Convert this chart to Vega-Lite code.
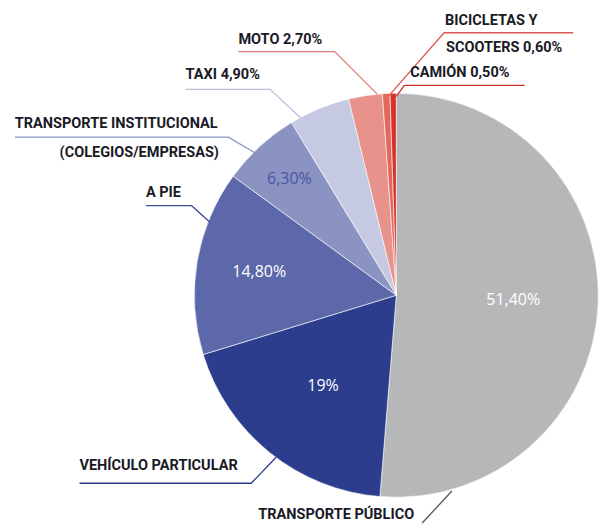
{
  "$schema": "https://vega.github.io/schema/vega-lite/v6.json",
  "width": 599,
  "height": 526,
  "autosize": {"type": "fit", "contains": "padding"},
  "padding": 0,
  "background": "#ffffff",
  "config": {"view": {"stroke": null}},
  "datasets": {
    "modos": [
      {"modo": "Transporte público", "valor": 51.4, "orden": 1, "etiqueta": "51,40%"},
      {"modo": "Vehículo particular", "valor": 19, "orden": 2, "etiqueta": "19%"},
      {"modo": "A pie", "valor": 14.8, "orden": 3, "etiqueta": "14,80%"},
      {"modo": "Transporte institucional", "valor": 6.3, "orden": 4, "etiqueta": "6,30%"},
      {"modo": "Taxi", "valor": 4.9, "orden": 5, "etiqueta": ""},
      {"modo": "Moto", "valor": 2.7, "orden": 6, "etiqueta": ""},
      {"modo": "Bicicletas y scooters", "valor": 0.6, "orden": 7, "etiqueta": ""},
      {"modo": "Camión", "valor": 0.5, "orden": 8, "etiqueta": ""}
    ],
    "lineas": [
      {"linea": "Bicicletas", "p": 1, "x": 88.1, "y": 130.7},
      {"linea": "Bicicletas", "p": 2, "x": 23.8, "y": 130.7},
      {"linea": "Bicicletas", "p": 3, "x": -4.0, "y": 99.0},
      {"linea": "Camión", "p": 1, "x": 63.9, "y": 104.5},
      {"linea": "Camión", "p": 2, "x": 4.0, "y": 104.5},
      {"linea": "Camión", "p": 3, "x": 0.0, "y": 99.0},
      {"linea": "Moto", "p": 1, "x": -78.7, "y": 121.3},
      {"linea": "Moto", "p": 2, "x": -30.7, "y": 121.3},
      {"linea": "Moto", "p": 3, "x": -9.4, "y": 100.0},
      {"linea": "Taxi", "p": 1, "x": -105.0, "y": 102.5},
      {"linea": "Taxi", "p": 2, "x": -62.9, "y": 102.5},
      {"linea": "Taxi", "p": 3, "x": -47.5, "y": 88.1},
      {"linea": "Institucional", "p": 1, "x": -190.1, "y": 78.7},
      {"linea": "Institucional", "p": 2, "x": -83.7, "y": 78.7},
      {"linea": "Institucional", "p": 3, "x": -70.3, "y": 70.8},
      {"linea": "A pie", "p": 1, "x": -124.8, "y": 44.6},
      {"linea": "A pie", "p": 2, "x": -102.0, "y": 44.6},
      {"linea": "A pie", "p": 3, "x": -92.6, "y": 36.1},
      {"linea": "Vehículo", "p": 1, "x": -157.9, "y": -93.6},
      {"linea": "Vehículo", "p": 2, "x": -72.3, "y": -93.6},
      {"linea": "Vehículo", "p": 3, "x": -59.9, "y": -80.7},
      {"linea": "Público", "p": 1, "x": 12.9, "y": -113.4},
      {"linea": "Público", "p": 2, "x": 27.7, "y": -97.5}
    ],
    "rotulos": [
      {"texto": "BICICLETAS Y", "x": 24.3, "y": 136.6},
      {"texto": "SCOOTERS 0,60%", "x": 24.8, "y": 123.3},
      {"texto": "CAMIÓN 0,50%", "x": 6.9, "y": 110.9},
      {"texto": "MOTO 2,70%", "x": -78.7, "y": 127.2},
      {"texto": "TAXI 4,90%", "x": -105.0, "y": 109.9},
      {"texto": "TRANSPORTE INSTITUCIONAL", "x": -190.1, "y": 85.1},
      {"texto": "(COLEGIOS/EMPRESAS)", "x": -167.8, "y": 70.8},
      {"texto": "A PIE", "x": -124.8, "y": 51.0},
      {"texto": "VEHÍCULO PARTICULAR", "x": -157.9, "y": -85.1},
      {"texto": "TRANSPORTE PÚBLICO", "x": -68.8, "y": -109.4}
    ]
  },
  "layer": [
    {
      "data": {"name": "modos"},
      "mark": {"type": "arc", "outerRadius": 202, "stroke": "#ffffff", "strokeWidth": 0.6},
      "encoding": {
        "x": {"datum": 0, "type": "quantitative", "scale": {"domain": [-197.5, 99], "nice": false, "zero": false}, "axis": null},
        "y": {"datum": 0, "type": "quantitative", "scale": {"domain": [-113.4, 147], "nice": false, "zero": false}, "axis": null},
        "theta": {"field": "valor", "type": "quantitative", "stack": true},
        "order": {"field": "orden", "type": "quantitative"},
        "color": {
          "field": "modo", "type": "nominal", "legend": null,
          "scale": {
            "domain": ["Transporte público", "Vehículo particular", "A pie", "Transporte institucional", "Taxi", "Moto", "Bicicletas y scooters", "Camión"],
            "range": ["#b6b7b9", "#2b3d8c", "#5c68a9", "#8b93c3", "#c5c9e1", "#e8928c", "#e2685e", "#d6342a"]
          }
        }
      }
    },
    {
      "data": {"name": "modos"},
      "mark": {"type": "text", "radius": 117, "font": "Open Sans", "fontSize": 16, "color": "#ffffff"},
      "encoding": {
        "x": {"datum": 0, "type": "quantitative"},
        "y": {"datum": 0, "type": "quantitative"},
        "theta": {"field": "valor", "type": "quantitative", "stack": true},
        "order": {"field": "orden", "type": "quantitative"},
        "text": {"condition": {"test": "datum.orden <= 2", "field": "etiqueta"}, "value": ""}
      }
    },
    {
      "data": {"name": "modos"},
      "mark": {"type": "text", "radius": 139, "font": "Open Sans", "fontSize": 16, "color": "#ffffff"},
      "encoding": {
        "x": {"datum": 0, "type": "quantitative"},
        "y": {"datum": 0, "type": "quantitative"},
        "theta": {"field": "valor", "type": "quantitative", "stack": true},
        "order": {"field": "orden", "type": "quantitative"},
        "text": {"condition": {"test": "datum.orden == 3", "field": "etiqueta"}, "value": ""}
      }
    },
    {
      "data": {"name": "modos"},
      "mark": {"type": "text", "radius": 158, "font": "Open Sans", "fontSize": 16, "color": "#4a55a0"},
      "encoding": {
        "x": {"datum": 0, "type": "quantitative"},
        "y": {"datum": 0, "type": "quantitative"},
        "theta": {"field": "valor", "type": "quantitative", "stack": true},
        "order": {"field": "orden", "type": "quantitative"},
        "text": {"condition": {"test": "datum.orden == 4", "field": "etiqueta"}, "value": ""}
      }
    },
    {
      "data": {"name": "lineas"},
      "mark": {"type": "line", "strokeWidth": 1.3},
      "encoding": {
        "x": {"field": "x", "type": "quantitative"},
        "y": {"field": "y", "type": "quantitative"},
        "order": {"field": "p", "type": "quantitative"},
        "detail": {"field": "linea"},
        "color": {
          "field": "linea", "type": "nominal", "legend": null,
          "scale": {
            "domain": ["Bicicletas", "Camión", "Moto", "Taxi", "Institucional", "A pie", "Vehículo", "Público"],
            "range": ["#d65a50", "#c9302c", "#e07a72", "#b9bedc", "#8b93c3", "#3f4b93", "#2b3d8c", "#555555"]
          }
        }
      }
    },
    {
      "data": {"name": "rotulos"},
      "mark": {"type": "text", "align": "left", "baseline": "middle", "font": "Roboto", "fontWeight": "bold", "fontSize": 14.5, "color": "#1a1a26"},
      "encoding": {
        "x": {"field": "x", "type": "quantitative"},
        "y": {"field": "y", "type": "quantitative"},
        "text": {"field": "texto"}
      }
    }
  ],
  "resolve": {"scale": {"color": "independent"}}
}
